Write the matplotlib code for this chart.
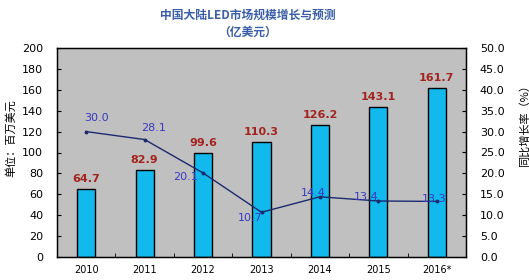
import numpy as np
import matplotlib
matplotlib.use('Agg')
import matplotlib.pyplot as plt

plt.rcParams['font.family'] = ['DejaVu Sans', 'Noto Sans CJK SC']

years = ['2010', '2011', '2012', '2013', '2014', '2015', '2016*']
market = [64.7, 82.9, 99.6, 110.3, 126.2, 143.1, 161.7]
growth = [30.0, 28.1, 20.1, 10.7, 14.4, 13.4, 13.3]

x = np.arange(len(years))

fig = plt.figure(figsize=(5.29, 2.80), dpi=100)
ax = fig.add_axes([57 / 529, 23 / 280, 409 / 529, 209 / 280])
ax.set_facecolor('#c0c0c0')

ax.bar(x, market, width=0.31, color='#12b9ec', edgecolor='black', linewidth=1.0, zorder=2)
for xi, v in zip(x, market):
    ax.text(xi, v + 5, f'{v:.1f}', ha='center', va='bottom', fontsize=8,
            color='#a3241f', fontweight='semibold')

ax.set_xlim(-0.5, len(years) - 0.5)
ax.set_ylim(0, 200)
ax.set_yticks(np.arange(0, 201, 20))
ax.set_xticks(x)
ax.set_xticklabels(years)
ax.set_xticks(np.arange(0.5, len(years) - 0.5, 1), minor=True)
ax.tick_params(axis='x', which='major', length=0, labelsize=7, pad=6)
ax.tick_params(axis='x', which='minor', length=3, direction='in')
ax.tick_params(axis='y', direction='in', length=3, labelsize=8, pad=10)
for s in ax.spines.values():
    s.set_linewidth(1.0)

ax.set_ylabel('单位：百万美元', family=['Noto Sans CJK SC'], fontsize=8)
ax.yaxis.set_label_coords(-0.1, 0.57)

ax2 = ax.twinx()
ax2.plot(x, growth, color='#1c2a6e', linewidth=1.0, marker='o', markersize=1.8, zorder=3)
ax2.set_ylim(0, 50)
ax2.set_yticks(np.arange(0, 50.1, 5))
ax2.set_yticklabels([f'{v:.1f}' for v in np.arange(0, 50.1, 5)])
ax2.tick_params(axis='y', direction='in', length=3, labelsize=8, pad=10)
ax2.set_ylabel('同比增长率（%）', family=['Noto Sans CJK SC'], fontsize=8, rotation=90)
ax2.yaxis.set_label_coords(1.13, 0.64)

offsets = [(0.17, 3.3), (0.15, 2.8), (-0.3, -1.0), (-0.2, -1.3), (-0.12, 0.8), (-0.2, 1.0), (-0.05, 0.6)]
for xi, v, (dx, dy) in zip(x, growth, offsets):
    ax2.text(xi + dx, v + dy, f'{v:.1f}', ha='center', va='center', fontsize=8, color='#3838c0')

fig.text(248 / 529, 1 - 15 / 280, '中国大陆LED市场规模增长与预测', ha='center', va='center',
         fontsize=8.5, color='#3a5ea8', fontweight='bold', family=['Noto Sans CJK SC'])
fig.text(248 / 529, 1 - 32 / 280, '（亿美元）', ha='center', va='center',
         fontsize=8.5, color='#3a5ea8', fontweight='bold', family=['Noto Sans CJK SC'])

fig.savefig('out.png', dpi=100, facecolor='white')
